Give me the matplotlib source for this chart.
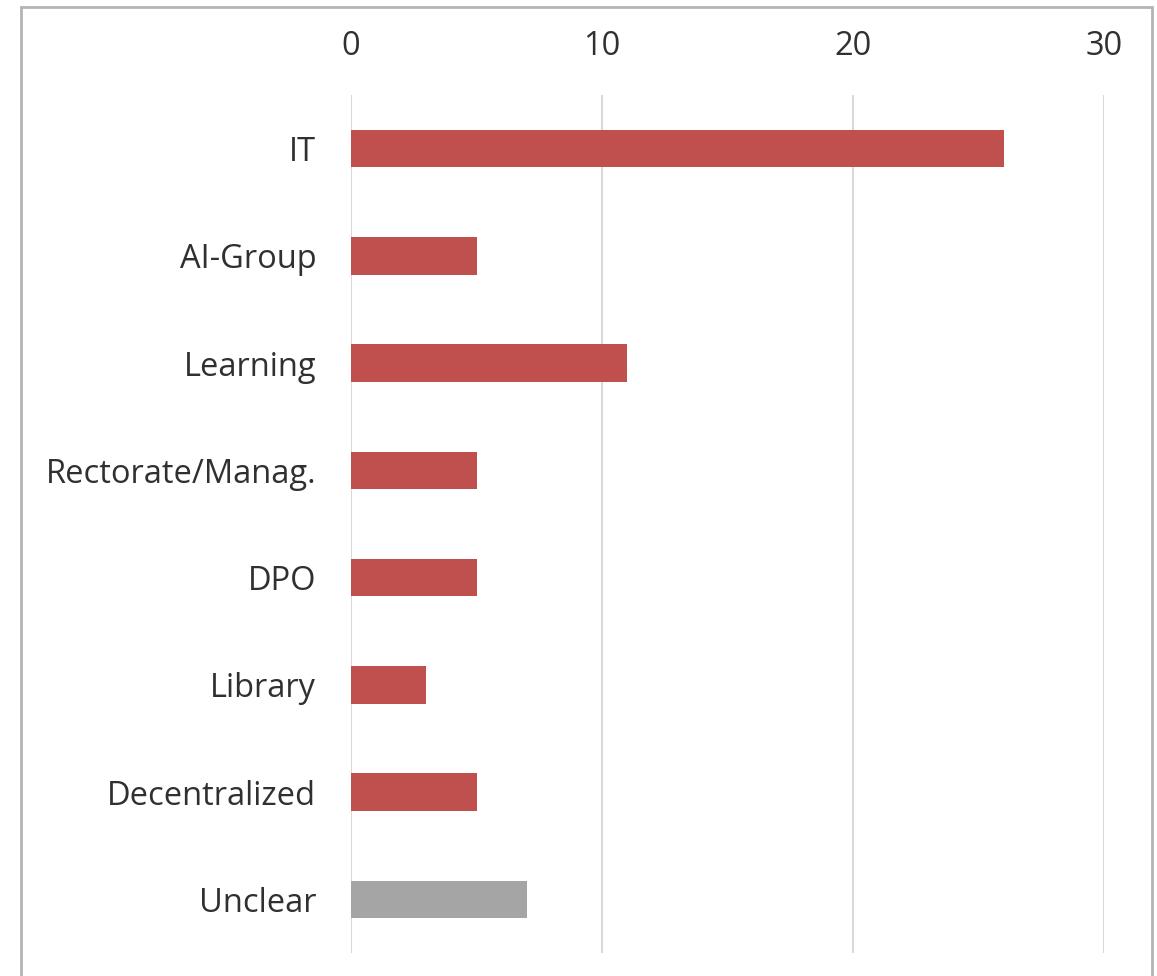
import matplotlib.pyplot as plt
from matplotlib.patches import Rectangle

categories = ["IT", "AI-Group", "Learning", "Rectorate/Manag.", "DPO",
              "Library", "Decentralized", "Unclear"]
counts = [26, 5, 11, 5, 5, 3, 5, 7]
bar_colors = ["#C0504D"] * 7 + ["#A5A5A5"]
xticks = [0, 10, 20, 30]

plt.rcParams['font.family'] = ['Open Sans', 'DejaVu Sans']

fig = plt.figure(figsize=(11.57, 9.76), dpi=100)
ax = fig.add_axes([351 / 1157, 23 / 976, 753 / 1157, 858 / 976])

y = list(range(len(categories)))
ax.barh(y, counts, height=0.35, color=bar_colors, zorder=2)
ax.set_ylim(len(categories) - 0.5, -0.5)
ax.set_yticks(y)
ax.set_yticklabels(categories)
ax.set_xlim(0, 30)
ax.set_xticks(xticks)

ax.xaxis.tick_top()
ax.grid(axis="x", color="#d9d9d9", linewidth=1.5, zorder=0)
for s in ax.spines.values():
    s.set_visible(False)
ax.tick_params(axis="x", length=0, pad=23, labelsize=23.5, labelcolor="#303030")
ax.tick_params(axis="y", length=0, pad=25, labelsize=23.5, labelcolor="#303030")

# chart frame (bottom edge is outside the image)
fig.patches.append(Rectangle((21 / 1157, -0.05), 1131 / 1157, 0.05 + 969 / 976,
                             transform=fig.transFigure, fill=False,
                             edgecolor="#b4b4b4", linewidth=2))

fig.savefig("out.png", dpi=100)
